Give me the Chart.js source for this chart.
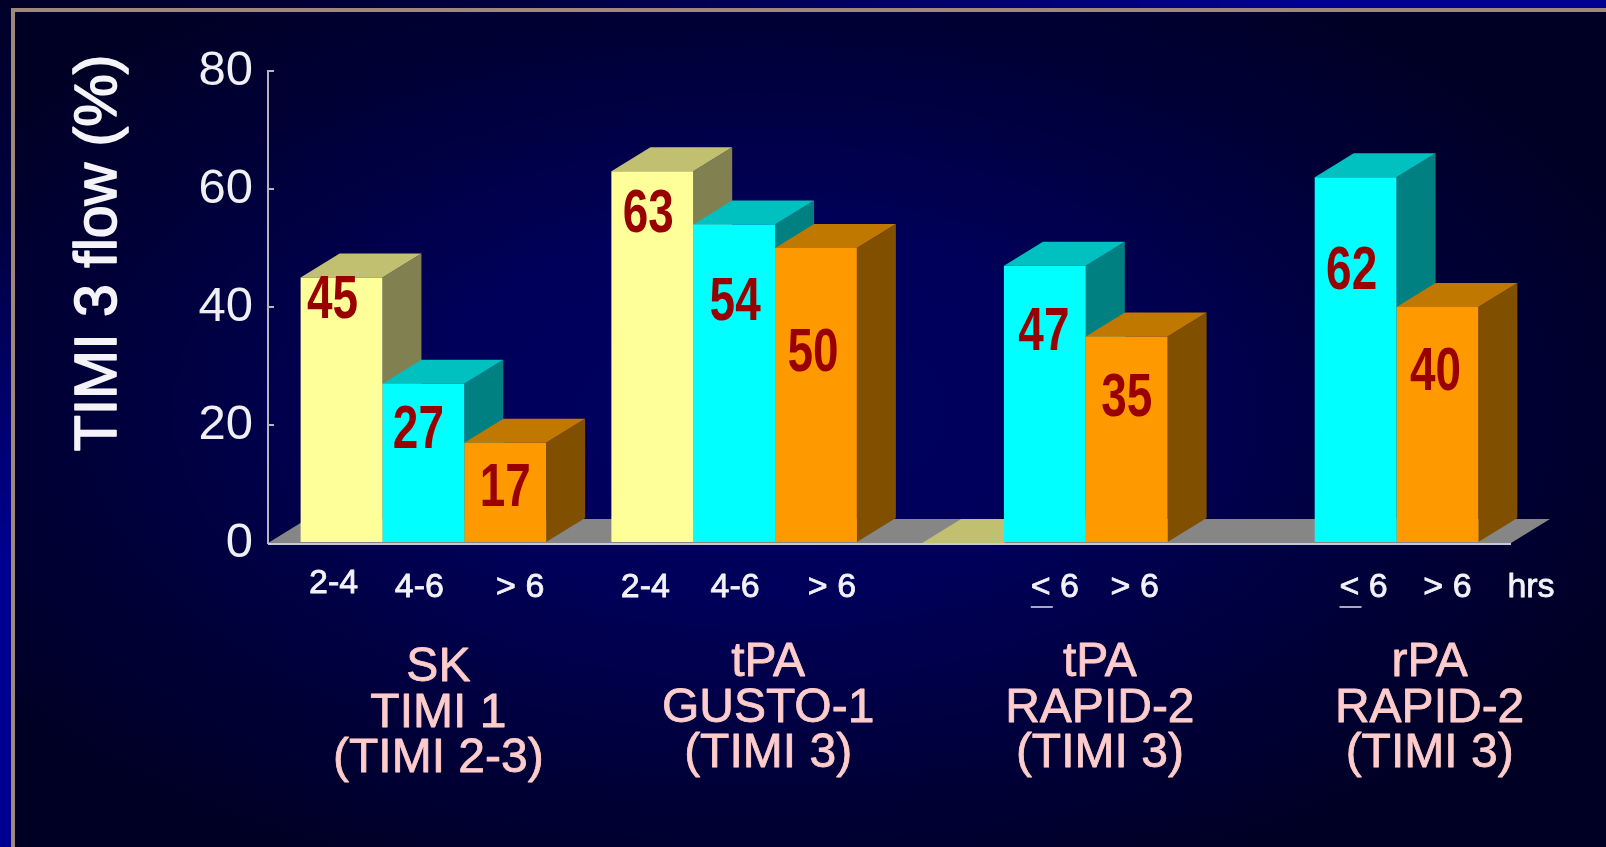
<!DOCTYPE html>
<html>
<head>
<meta charset="utf-8">
<title>TIMI 3 flow</title>
<script src="https://cdn.jsdelivr.net/npm/chart.js@4"></script>
<style>
  html, body { margin: 0; padding: 0; width: 1606px; height: 847px; overflow: hidden; }
  body { background: radial-gradient(ellipse 1300px 560px at 0 0, #000028 0%, #000040 40%, #000090 100%); position: relative; }
  #panel {
    position: absolute; left: 11px; top: 8px; right: 0; bottom: 0;
    border-left: 4px solid #a08878; border-top: 4px solid #a08878;
    background: radial-gradient(ellipse 60% 62% at 47% 48%, #000060 0%, #00005a 35%, #00003a 70%, #000024 100%);
  }
  #wrap { position: absolute; left: 0; top: 0; width: 1606px; height: 847px; }
</style>
</head>
<body>
<div id="panel"></div>
<div id="wrap"><canvas id="chart" width="1606" height="847"></canvas></div>
<script>
const trials = ['SK', 'tPA GUSTO-1', 'tPA RAPID-2', 'rPA RAPID-2'];
const hrs24 = [45, 63, 0, null];
const hrs46 = [27, 54, 47, 62];
const hrs6plus = [17, 50, 35, 40];
const yTicks = [0, 20, 40, 60, 80];

// hour windows printed under each bar
const hours24 = ['2-4', '2-4', null, null];
const hours46 = ['4-6', '4-6', '< 6', '< 6'];
const hours6plus = ['> 6', '> 6', '> 6', '> 6'];

const trialLines = [
  ['SK', 'TIMI 1', '(TIMI 2-3)'],
  ['tPA', 'GUSTO-1', '(TIMI 3)'],
  ['tPA', 'RAPID-2', '(TIMI 3)'],
  ['rPA', 'RAPID-2', '(TIMI 3)'],
];

const palette = [
  { front: '#ffff99', top: '#c0c070', side: '#808050' },
  { front: '#00ffff', top: '#00c0c0', side: '#008080' },
  { front: '#ff9900', top: '#c07800', side: '#805000' },
];

// hand placed label nudges, per series and per trial, from the bar centre / bar top
const valueNudge = [
  [[-9, 23], [-4, 44], null, null],
  [[-5, 47], [1, 79], [-1, 67], [-4, 95]],
  [[0, 46], [-3, 106], [0, 62], [-2, 66]],
];
const hourNudge = [
  [-8, -7, 0, 0],
  [-4, 1, 10, 8],
  [15, 16, 8, 10],
];
const trialNudge = [[15, 5], [34, 0], [55, 0], [74, 0]];

const DEPTH_X = 39;
const DEPTH_Y = 24;
const SANS = '"Liberation Sans", Arial, sans-serif';

function poly(ctx, color, pts) {
  ctx.fillStyle = color;
  ctx.beginPath();
  pts.forEach((p, i) => (i ? ctx.lineTo(p[0], p[1]) : ctx.moveTo(p[0], p[1])));
  ctx.closePath();
  ctx.fill();
}

// text with a hairline outline, the slide lettering is a bit heavier than the plain face
function softText(ctx, text, x, y, weight) {
  ctx.lineWidth = weight;
  ctx.strokeStyle = ctx.fillStyle;
  ctx.lineJoin = 'round';
  ctx.strokeText(text, x, y);
  ctx.fillText(text, x, y);
}

// floor slab and the top/side faces of the bars, the library paints the fronts afterwards
const depthFaces = {
  id: 'depthFaces',
  beforeDatasetsDraw(chart) {
    const ctx = chart.ctx;
    const { left, right, bottom } = chart.chartArea;
    poly(ctx, '#868686', [
      [left, bottom], [right, bottom],
      [right + DEPTH_X, bottom - DEPTH_Y], [left + DEPTH_X, bottom - DEPTH_Y],
    ]);
    for (let t = 0; t < trials.length; t++) {
      chart.data.datasets.forEach((ds, s) => {
        if (ds.data[t] === null) return;
        const bar = chart.getDatasetMeta(s).data[t];
        const x0 = bar.x - bar.width / 2;
        const x1 = bar.x + bar.width / 2;
        const c = palette[s];
        poly(ctx, c.side, [
          [x1, bar.y], [x1 + DEPTH_X, bar.y - DEPTH_Y],
          [x1 + DEPTH_X, bar.base - DEPTH_Y], [x1, bar.base],
        ]);
        poly(ctx, c.top, [
          [x0, bar.y], [x1, bar.y],
          [x1 + DEPTH_X, bar.y - DEPTH_Y], [x0 + DEPTH_X, bar.y - DEPTH_Y],
        ]);
      });
    }
  },
};

const annotations = {
  id: 'annotations',
  afterDraw(chart) {
    const ctx = chart.ctx;
    const { left, right, bottom } = chart.chartArea;
    ctx.save();
    ctx.textAlign = 'center';
    ctx.textBaseline = 'middle';

    // floor front edge
    ctx.fillStyle = '#c8c8d8';
    ctx.fillRect(left, bottom, right - left, 2);

    // value labels, squeezed sideways into a tall narrow face
    ctx.fillStyle = '#990000';
    ctx.font = 'bold 62px ' + SANS;
    chart.data.datasets.forEach((ds, s) => {
      ds.data.forEach((v, t) => {
        if (!v) return;
        const bar = chart.getDatasetMeta(s).data[t];
        const n = valueNudge[s][t];
        ctx.save();
        ctx.translate(bar.x + n[0], bar.y + n[1]);
        ctx.scale(0.74, 1);
        ctx.fillText(String(v), 0, 0);
        ctx.restore();
      });
    });

    // hour windows
    const hourRows = [hours24, hours46, hours6plus];
    ctx.font = '34px ' + SANS;
    ctx.fillStyle = '#f2f2f8';
    hourRows.forEach((row, s) => {
      row.forEach((label, t) => {
        if (!label) return;
        const bar = chart.getDatasetMeta(s).data[t];
        const x = bar.x + hourNudge[s][t];
        const y = s === 0 && t === 0 ? 584 : 588;
        softText(ctx, label, x, y, 0.8);
        if (label[0] === '<') {
          const w = ctx.measureText(label).width;
          ctx.fillStyle = '#a8a8c0';
          ctx.fillRect(x - w / 2, y + 18, 22, 2);
          ctx.fillStyle = '#f2f2f8';
        }
      });
    });
    softText(ctx, 'hrs', 1531, 588, 0.8);

    // trial names
    ctx.font = '48px ' + SANS;
    ctx.fillStyle = '#ffcccc';
    const xScale = chart.scales.x;
    trialLines.forEach((lines, t) => {
      const x = xScale.getPixelForTick(t) + trialNudge[t][0];
      lines.forEach((line, i) => {
        softText(ctx, line, x, 663 + i * 45.5 + trialNudge[t][1], 0.8);
      });
    });

    // axis title, sits higher than the centre of the axis
    ctx.translate(100, 253);
    ctx.rotate(-Math.PI / 2);
    ctx.font = '59px ' + SANS;
    ctx.fillStyle = '#f4f4f8';
    softText(ctx, 'TIMI 3 flow (%)', 0, 0, 1.6);
    ctx.restore();
  },
};

Chart.defaults.animation = false;

new Chart(document.getElementById('chart'), {
  type: 'bar',
  plugins: [depthFaces, annotations],
  data: {
    labels: trials,
    datasets: [hrs24, hrs46, hrs6plus].map((values, s) => ({
      data: values,
      backgroundColor: palette[s].front,
      borderWidth: 0,
      barPercentage: 1,
      categoryPercentage: 0.79,
    })),
  },
  options: {
    responsive: false,
    layout: { padding: { top: 71, right: 95, bottom: 296, left: 0 } },
    plugins: { legend: { display: false }, tooltip: { enabled: false } },
    scales: {
      x: {
        ticks: { display: false },
        grid: { display: false },
        border: { display: false },
      },
      y: {
        min: 0,
        max: 80,
        afterBuildTicks(scale) {
          scale.ticks = yTicks.map((value) => ({ value }));
        },
        afterFit(scale) {
          scale.width = 268;
        },
        ticks: { color: '#f0f0f4', padding: 21, font: { family: SANS, size: 49 } },
        grid: { drawOnChartArea: false, color: '#b4b4c4', tickLength: -6, lineWidth: 2 },
        border: { color: '#b4b4c4', width: 2 },
      },
    },
  },
});
</script>
</body>
</html>
